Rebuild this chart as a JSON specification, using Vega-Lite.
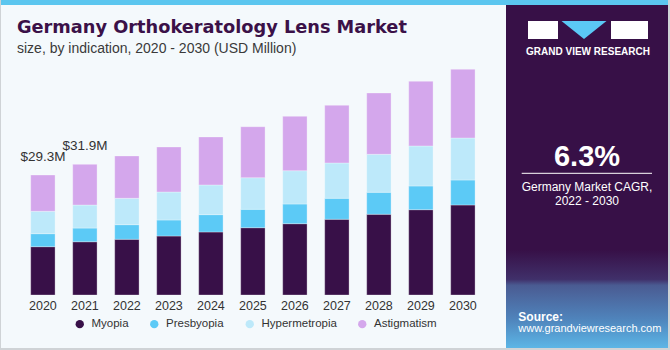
{
  "$schema": "https://vega.github.io/schema/vega-lite/v6.json",
  "background": "#cfd3d6",
  "padding": {"left": 1, "top": 0, "right": 2, "bottom": 2},
  "spacing": 0,
  "bounds": "flush",
  "config": {"view": {"stroke": null}, "concat": {"spacing": 0}},
  "datasets": {
    "bars": [
      {"year": "2020", "indication": "Myopia", "value": 11.8},
      {"year": "2020", "indication": "Presbyopia", "value": 3.17},
      {"year": "2020", "indication": "Hypermetropia", "value": 5.47},
      {"year": "2020", "indication": "Astigmatism", "value": 8.86},
      {"year": "2021", "indication": "Myopia", "value": 13.0},
      {"year": "2021", "indication": "Presbyopia", "value": 3.35},
      {"year": "2021", "indication": "Hypermetropia", "value": 5.62},
      {"year": "2021", "indication": "Astigmatism", "value": 9.93},
      {"year": "2022", "indication": "Myopia", "value": 13.6},
      {"year": "2022", "indication": "Presbyopia", "value": 3.57},
      {"year": "2022", "indication": "Hypermetropia", "value": 6.45},
      {"year": "2022", "indication": "Astigmatism", "value": 10.33},
      {"year": "2023", "indication": "Myopia", "value": 14.4},
      {"year": "2023", "indication": "Presbyopia", "value": 3.91},
      {"year": "2023", "indication": "Hypermetropia", "value": 6.84},
      {"year": "2023", "indication": "Astigmatism", "value": 10.99},
      {"year": "2024", "indication": "Myopia", "value": 15.39},
      {"year": "2024", "indication": "Presbyopia", "value": 4.23},
      {"year": "2024", "indication": "Hypermetropia", "value": 7.25},
      {"year": "2024", "indication": "Astigmatism", "value": 11.72},
      {"year": "2025", "indication": "Myopia", "value": 16.43},
      {"year": "2025", "indication": "Presbyopia", "value": 4.49},
      {"year": "2025", "indication": "Hypermetropia", "value": 7.72},
      {"year": "2025", "indication": "Astigmatism", "value": 12.45},
      {"year": "2026", "indication": "Myopia", "value": 17.41},
      {"year": "2026", "indication": "Presbyopia", "value": 4.81},
      {"year": "2026", "indication": "Hypermetropia", "value": 8.13},
      {"year": "2026", "indication": "Astigmatism", "value": 13.28},
      {"year": "2027", "indication": "Myopia", "value": 18.49},
      {"year": "2027", "indication": "Presbyopia", "value": 5.13},
      {"year": "2027", "indication": "Hypermetropia", "value": 8.62},
      {"year": "2027", "indication": "Astigmatism", "value": 14.09},
      {"year": "2028", "indication": "Myopia", "value": 19.71},
      {"year": "2028", "indication": "Presbyopia", "value": 5.37},
      {"year": "2028", "indication": "Hypermetropia", "value": 9.28},
      {"year": "2028", "indication": "Astigmatism", "value": 14.97},
      {"year": "2029", "indication": "Myopia", "value": 20.83},
      {"year": "2029", "indication": "Presbyopia", "value": 5.79},
      {"year": "2029", "indication": "Hypermetropia", "value": 9.77},
      {"year": "2029", "indication": "Astigmatism", "value": 15.8},
      {"year": "2030", "indication": "Myopia", "value": 21.98},
      {"year": "2030", "indication": "Presbyopia", "value": 6.1},
      {"year": "2030", "indication": "Hypermetropia", "value": 10.26},
      {"year": "2030", "indication": "Astigmatism", "value": 16.78}
    ],
    "totals": [
      {"year": "2020", "total": 29.3, "label": "$29.3M"},
      {"year": "2021", "total": 31.9, "label": "$31.9M"}
    ]
  },
  "vconcat": [
    {
      "width": 667,
      "height": 5,
      "view": {"fill": "#5bc6ef"},
      "data": {"values": [{"part": "strip"}]},
      "mark": {"type": "rect", "color": "#5bc6ef"},
      "encoding": {"x": {"value": 0}, "x2": {"value": 667}, "y": {"value": 0}, "y2": {"value": 5}}
    },
    {
      "spacing": 0,
      "bounds": "flush",
      "hconcat": [
        {
          "width": 505,
          "height": 343,
          "view": {"fill": "#f4f9fc"},
          "layer": [
            {
              "data": {"name": "bars"},
              "transform": [
                {"calculate": "indexof(['Myopia','Presbyopia','Hypermetropia','Astigmatism'], datum.indication)", "as": "stackOrder"}
              ],
              "mark": {"type": "bar", "stroke": "#ffffff", "strokeWidth": 0.5, "strokeOpacity": 0.6},
              "encoding": {
                "x": {
                  "field": "year", "type": "ordinal",
                  "scale": {"paddingInner": 0.42, "paddingOuter": 0.722, "align": 0.49},
                  "axis": {"title": null, "domain": false, "ticks": false, "grid": false, "labelAngle": 0,
                           "labelFont": "Liberation Sans", "labelFontSize": 12.5, "labelColor": "#333333",
                           "labelPadding": 4, "offset": -53}
                },
                "y": {
                  "field": "value", "type": "quantitative", "stack": "zero",
                  "scale": {"domain": [-12.94, 70.81], "nice": false, "zero": false},
                  "axis": null
                },
                "order": {"field": "stackOrder", "type": "quantitative", "sort": "ascending"},
                "color": {
                  "field": "indication", "type": "nominal",
                  "sort": ["Myopia", "Presbyopia", "Hypermetropia", "Astigmatism"],
                  "scale": {"domain": ["Myopia", "Presbyopia", "Hypermetropia", "Astigmatism"],
                            "range": ["#381048", "#5ccaf6", "#bde9fa", "#d4a7ec"]},
                  "legend": {"title": null, "orient": "none", "direction": "horizontal", "columns": 4,
                             "legendX": 73, "legendY": 318, "symbolType": "circle", "symbolSize": 70,
                             "symbolStrokeWidth": 0, "labelFont": "Liberation Sans", "labelFontSize": 11.5,
                             "labelColor": "#333333", "columnPadding": 19.5, "labelOffset": 6}
                }
              }
            },
            {
              "data": {"name": "totals"},
              "mark": {"type": "text", "font": "Liberation Sans", "fontSize": 13.5, "color": "#333333", "dy": -14, "baseline": "alphabetic"},
              "encoding": {
                "x": {"field": "year", "type": "ordinal"},
                "y": {"field": "total", "type": "quantitative"},
                "text": {"field": "label"}
              }
            },
            {
              "data": {"values": [{"t": "Germany Orthokeratology Lens Market"}]},
              "mark": {"type": "text", "align": "left", "baseline": "alphabetic", "font": "DejaVu Sans", "fontWeight": "bold", "fontSize": 17.75, "color": "#3b1148"},
              "encoding": {"x": {"value": 16}, "y": {"value": 28.3}, "text": {"field": "t"}}
            },
            {
              "data": {"values": [{"t": "size, by indication, 2020 - 2030 (USD Million)"}]},
              "mark": {"type": "text", "align": "left", "baseline": "alphabetic", "font": "Liberation Sans", "fontSize": 14, "color": "#3a3a3a"},
              "encoding": {"x": {"value": 16}, "y": {"value": 48.3}, "text": {"field": "t"}}
            }
          ]
        },
        {
          "width": 162,
          "height": 343,
          "view": {"fill": "#371047"},
          "layer": [
            {
              "data": {"values": [{"part": "ground"}]},
              "mark": {"type": "rect", "color": {"gradient": "linear", "x1": 0, "y1": 0, "x2": 0, "y2": 1,
                "stops": [{"offset": 0, "color": "#371047"}, {"offset": 0.3, "color": "#40306a"}, {"offset": 0.36, "color": "#4a5b92"}, {"offset": 0.7, "color": "#4f83bb"}, {"offset": 1, "color": "#5cb6e6"}]}},
              "encoding": {"x": {"value": 0}, "x2": {"value": 162}, "y": {"value": 245}, "y2": {"value": 343}}
            },
            {
              "data": {"values": [{"part": "logo-left"}]},
              "mark": {"type": "rect", "color": "#ffffff"},
              "encoding": {"x": {"value": 22}, "x2": {"value": 52}, "y": {"value": 16}, "y2": {"value": 34}}
            },
            {
              "data": {"values": [{"part": "logo-right"}]},
              "mark": {"type": "rect", "color": "#ffffff"},
              "encoding": {"x": {"value": 105}, "x2": {"value": 142}, "y": {"value": 16}, "y2": {"value": 34}}
            },
            {
              "data": {"values": [{"part": "logo-mid"}]},
              "mark": {"type": "point", "filled": true, "opacity": 1, "color": "#5bc8f5", "shape": "M-1,-0.4L1,-0.4L0,0.4Z", "size": 2025},
              "encoding": {"x": {"value": 78}, "y": {"value": 25}}
            },
            {
              "data": {"values": [{"t": "GRAND VIEW RESEARCH"}]},
              "mark": {"type": "text", "align": "center", "baseline": "middle", "font": "Liberation Sans", "fontWeight": "bold", "fontSize": 10, "color": "#ffffff"},
              "encoding": {"x": {"value": 82}, "y": {"value": 46.7}, "text": {"field": "t"}}
            },
            {
              "data": {"values": [{"t": "6.3%"}]},
              "mark": {"type": "text", "align": "center", "baseline": "middle", "font": "Liberation Sans", "fontWeight": "bold", "fontSize": 29, "color": "#ffffff"},
              "encoding": {"x": {"value": 81}, "y": {"value": 151.7}, "text": {"field": "t"}}
            },
            {
              "data": {"values": [{"part": "divider"}]},
              "mark": {"type": "rule", "color": "#ffffff", "strokeWidth": 1},
              "encoding": {"x": {"value": 15.7}, "x2": {"value": 146}, "y": {"value": 168.3}}
            },
            {
              "data": {"values": [{"t": "Germany Market CAGR,"}]},
              "mark": {"type": "text", "align": "center", "baseline": "middle", "font": "Liberation Sans", "fontSize": 12, "color": "#ffffff"},
              "encoding": {"x": {"value": 81}, "y": {"value": 181.7}, "text": {"field": "t"}}
            },
            {
              "data": {"values": [{"t": "2022 - 2030"}]},
              "mark": {"type": "text", "align": "center", "baseline": "middle", "font": "Liberation Sans", "fontSize": 12, "color": "#ffffff"},
              "encoding": {"x": {"value": 81}, "y": {"value": 196}, "text": {"field": "t"}}
            },
            {
              "data": {"values": [{"t": "Source:"}]},
              "mark": {"type": "text", "align": "left", "baseline": "middle", "font": "Liberation Sans", "fontWeight": "bold", "fontSize": 12, "color": "#ffffff"},
              "encoding": {"x": {"value": 12.3}, "y": {"value": 311.7}, "text": {"field": "t"}}
            },
            {
              "data": {"values": [{"t": "www.grandviewresearch.com"}]},
              "mark": {"type": "text", "align": "left", "baseline": "middle", "font": "Liberation Sans", "fontSize": 11, "color": "#ffffff"},
              "encoding": {"x": {"value": 12.3}, "y": {"value": 324.3}, "text": {"field": "t"}}
            }
          ]
        }
      ]
    }
  ]
}
